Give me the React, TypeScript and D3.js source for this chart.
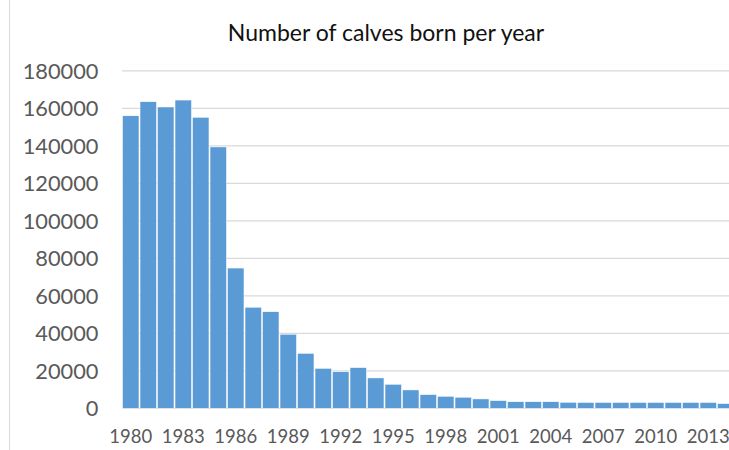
import React from "react";
import * as d3 from "d3";

const years: string[] = [
  "1980","1981","1982","1983","1984","1985","1986","1987","1988","1989",
  "1990","1991","1992","1993","1994","1995","1996","1997","1998","1999",
  "2000","2001","2002","2003","2004","2005","2006","2007","2008","2009",
  "2010","2011","2012","2013","2014",
];
const calves: number[] = [
  156000,163500,160700,164400,155200,139400,74800,53900,51500,39500,
  29300,21300,19500,21700,16200,12800,9800,7300,6400,5900,
  5000,4100,3500,3500,3500,3200,3100,3100,3100,3100,
  3100,3100,3100,3100,2500,
];
const yTicks: number[] = [0,20000,40000,60000,80000,100000,120000,140000,160000,180000];
const title = "Number of calves born per year";

const W = 729, H = 450;
const plotLeft = 122, step = 17.5;
const plotTop = 70.8, plotBottom = 408.3;
const FONT = "Lato, 'Open Sans', sans-serif";

export default function App() {
  const x = d3.scaleBand<string>()
    .domain(years)
    .range([plotLeft, plotLeft + step * years.length])
    .paddingInner(0.06)
    .paddingOuter(0.03);
  const y = d3.scaleLinear().domain([0, 180000]).range([plotBottom, plotTop]);
  const xLabels = years.filter((_, i) => i % 3 === 0);
  return (
    <svg width={W} height={H} style={{ position: "absolute", left: 0, top: 0, display: "block", background: "#fff" }}>
      <line x1={9.5} x2={9.5} y1={0} y2={H} stroke="#d9d9d9" strokeWidth={1} />
      {yTicks.map((t) => (
        <g key={t}>
          <line x1={plotLeft} x2={W} y1={y(t)} y2={y(t)} stroke="#d9d9d9" strokeWidth={1.3} />
          <text x={98.5} y={y(t)} dy="0.36em" textAnchor="end" fontFamily={FONT} fontSize={21.8} fill="#595959">{t}</text>
        </g>
      ))}
      {years.map((yr, i) => (
        <rect key={yr} x={x(yr)!} width={x.bandwidth()} y={y(calves[i])} height={plotBottom - y(calves[i])}
          fill="#5b9bd5" stroke="#ffffff" strokeWidth={0.5} />
      ))}
      {xLabels.map((yr) => (
        <text key={yr} x={x(yr)! + x.bandwidth() / 2} y={443} textAnchor="middle" fontFamily={FONT} fontSize={18.5} fill="#595959">{yr}</text>
      ))}
      <text x={386} y={41} textAnchor="middle" fontFamily={FONT} fontSize={23} fill="#111111">{title}</text>
    </svg>
  );
}
